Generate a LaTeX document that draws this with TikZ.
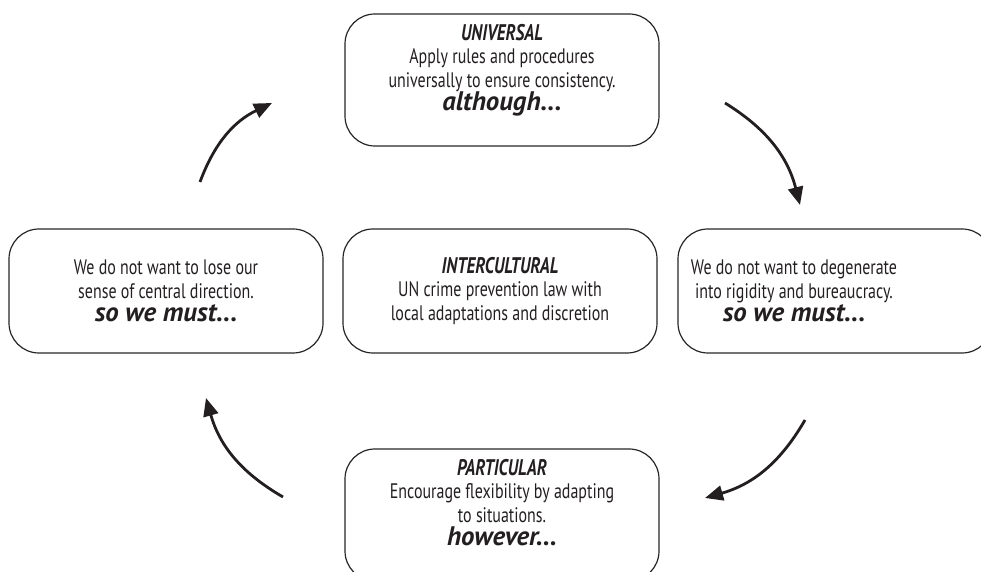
\documentclass[tikz,border=0pt]{standalone}
\usepackage{fontspec}
\usepackage{xcolor}
\usepackage{tikz}
\usetikzlibrary{arrows.meta}

\setmainfont[FakeStretch=0.76]{PT Sans}
\newfontfamily\cuefont{PT Sans}

\definecolor{inkgray}{HTML}{231F20}

\tikzset{
	cardtext/.style={align=center, text=inkgray, font=\fontsize{10.5}{11.6}\selectfont},
	cardbox/.style={cardtext, rectangle, rounded corners=15pt, draw=black!85, line width=0.6pt,
		minimum width=157pt},
	cyclearrow/.style={line width=1.4pt, draw=inkgray, bend left=22,
		-{Triangle[length=9pt, width=7.5pt]}},
}
\newcommand{\boxhead}[1]{{\fontsize{11.3}{11.6}\selectfont\bfseries\itshape #1}}
\newcommand{\boxcue}[1]{{\cuefont\fontsize{13.4}{11.6}\selectfont\bfseries\itshape #1}}
% pushes the text of the top and bottom cards up a little
\newcommand{\liftpad}{\\[1pt]\mbox{}}

\begin{document}
\begin{tikzpicture}[x=0.5pt, y=-0.5pt]
	\useasboundingbox (0,0) rectangle (981,572);
	% the four positions round the cycle, and the middle ground
	\node[cardbox, minimum height=66pt] at (502,80)(univ){\boxhead{UNIVERSAL}\\Apply rules and procedures\\universally to ensure consistency.\\\boxcue{although...}\liftpad};
	\node[cardbox, minimum height=62pt] at (835,291)(degen){};
	\node[cardtext] at (794,291)(degentext){We do not want to degenerate\\into rigidity and bureaucracy.\\\boxcue{so we must...}};
	\node[cardbox, minimum height=66pt] at (502,515)(partic){\boxhead{PARTICULAR}\\Encourage flexibility by adapting\\to situations.\\\boxcue{however...}\liftpad};
	\node[cardbox, minimum height=62pt] at (166,291)(lose){We do not want to lose our\\sense of central direction.\\\boxcue{so we must...}};
	\node[cardbox, minimum height=62pt] at (500,291)(inter){\boxhead{INTERCULTURAL}\\UN crime prevention law with\\local adaptations and discretion};
	% loose ends of the curved arrows
	\coordinate (tl0) at (200,182);
	\coordinate (tl1) at (272,103);
	\coordinate (tr0) at (725,103);
	\coordinate (tr1) at (800,205);
	\coordinate (br0) at (805,420);
	\coordinate (br1) at (705,498);
	\coordinate (bl0) at (283,497);
	\coordinate (bl1) at (206,398);
	\draw[cyclearrow](tl0) to (tl1);
	\draw[cyclearrow](tr0) to (tr1);
	\draw[cyclearrow](br0) to (br1);
	\draw[cyclearrow](bl0) to (bl1);
\end{tikzpicture}
\end{document}
